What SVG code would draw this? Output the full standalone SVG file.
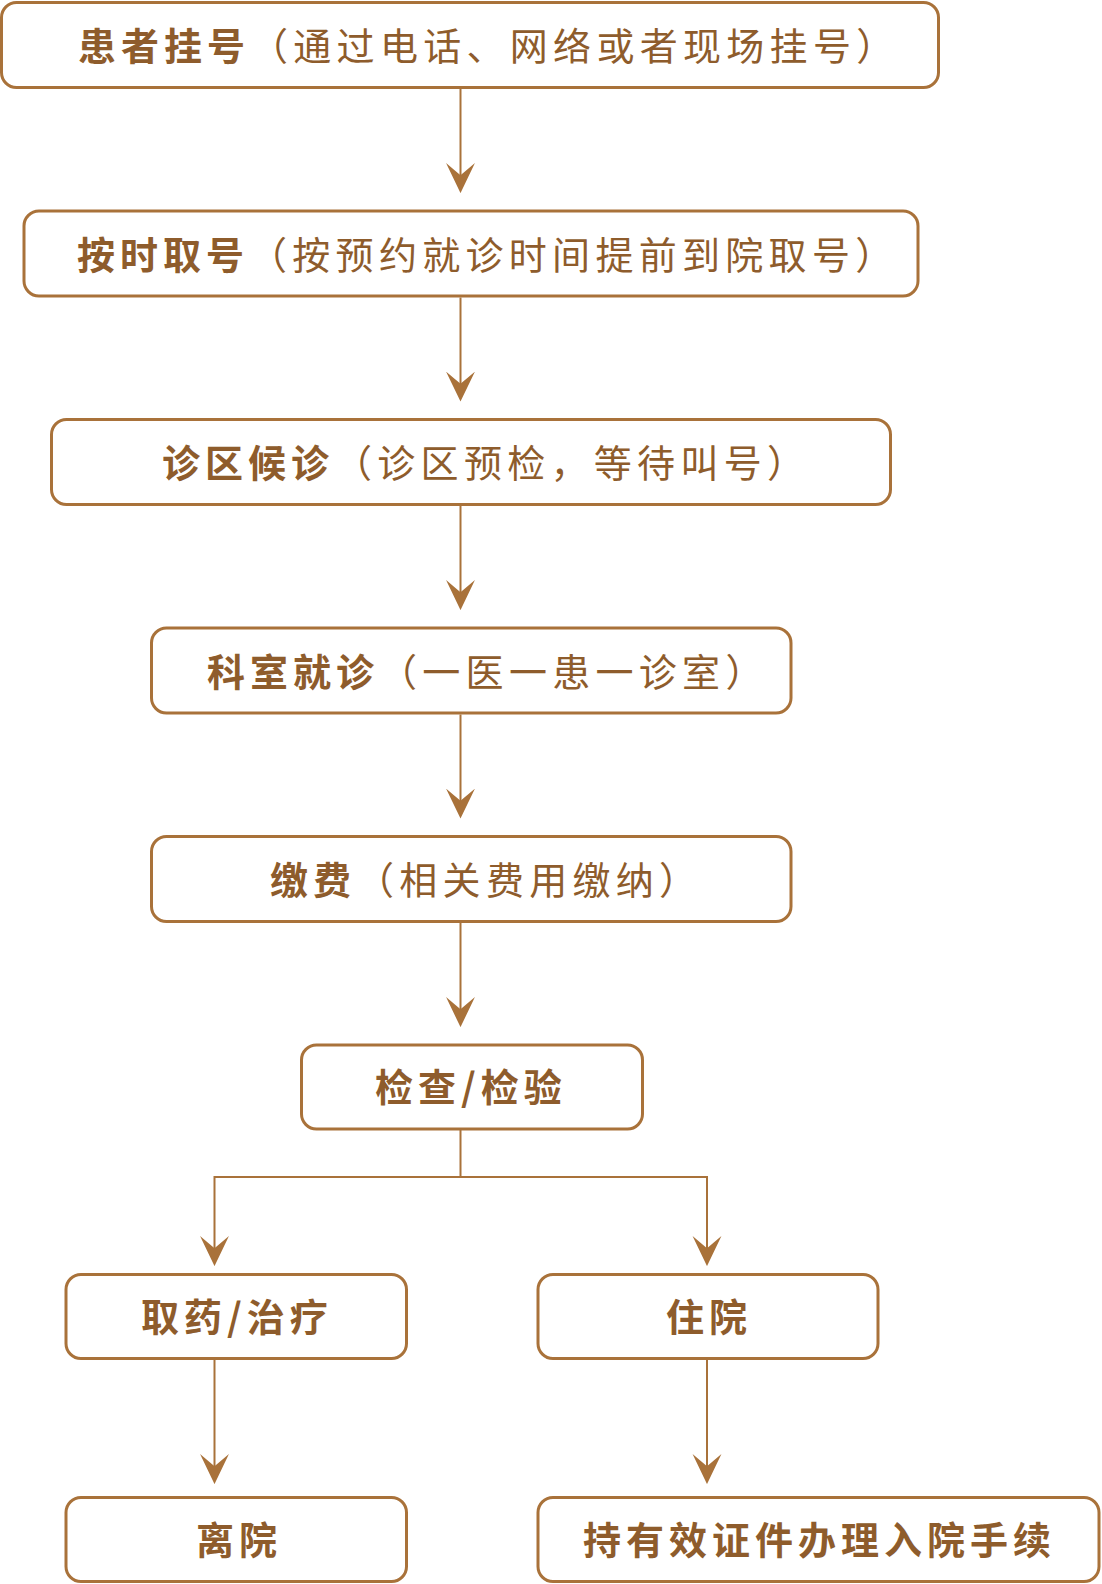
<svg xmlns="http://www.w3.org/2000/svg" width="1102" height="1584" viewBox="0 0 1102 1584">
  <defs>
    <style>
      .box { fill: #ffffff; stroke: #A9723A; stroke-width: 3; }
      .conn { fill: none; stroke: #A9723A; stroke-width: 2; }
      .t { font-family: "Noto Sans CJK SC", "Noto Sans", sans-serif; font-size: 38px; fill: #8E5C2C; }
      .b { font-weight: 700; letter-spacing: 5px; }
      .r { font-weight: 400; letter-spacing: 5.3px; }
    </style>
    <marker id="arrow" markerUnits="userSpaceOnUse" markerWidth="30" markerHeight="30" viewBox="0 0 27 26" refX="17" refY="13" orient="auto">
      <path d="M0,0 L27,13 L0,26 L11,13 Z" fill="#A9723A"/>
    </marker>
  </defs>
  <rect width="1102" height="1584" fill="#ffffff"/>

  <g id="connectors">
    <line class="conn" x1="460.5" y1="89" x2="460.5" y2="182" marker-end="url(#arrow)"/>
    <line class="conn" x1="460.5" y1="297.5" x2="460.5" y2="390.5" marker-end="url(#arrow)"/>
    <line class="conn" x1="460.5" y1="506" x2="460.5" y2="599" marker-end="url(#arrow)"/>
    <line class="conn" x1="460.5" y1="714.5" x2="460.5" y2="807.5" marker-end="url(#arrow)"/>
    <line class="conn" x1="460.5" y1="923" x2="460.5" y2="1016" marker-end="url(#arrow)"/>
    <polyline class="conn" points="460.5,1130 460.5,1177 214.5,1177 214.5,1255" marker-end="url(#arrow)"/>
    <polyline class="conn" points="460.5,1177 707,1177 707,1255" marker-end="url(#arrow)"/>
    <line class="conn" x1="214.5" y1="1359" x2="214.5" y2="1473" marker-end="url(#arrow)"/>
    <line class="conn" x1="707" y1="1359" x2="707" y2="1473" marker-end="url(#arrow)"/>
  </g>

  <g id="n1">
    <rect class="box" x="1.5" y="2.5" width="937" height="85" rx="15"/>
    <text class="t" x="78" y="60"><tspan class="b">患者挂号</tspan><tspan class="r">（通过电话、网络或者现场挂号）</tspan></text>
  </g>
  <g id="n2">
    <rect class="box" x="24" y="211" width="894" height="85" rx="15"/>
    <text class="t" x="77" y="268.5"><tspan class="b">按时取号</tspan><tspan class="r">（按预约就诊时间提前到院取号）</tspan></text>
  </g>
  <g id="n3">
    <rect class="box" x="51.5" y="419.5" width="839" height="85" rx="15"/>
    <text class="t" x="162" y="477"><tspan class="b">诊区候诊</tspan><tspan class="r">（诊区预检，等待叫号）</tspan></text>
  </g>
  <g id="n4">
    <rect class="box" x="151.5" y="628" width="639.5" height="85" rx="15"/>
    <text class="t" x="207" y="685.5"><tspan class="b">科室就诊</tspan><tspan class="r">（一医一患一诊室）</tspan></text>
  </g>
  <g id="n5">
    <rect class="box" x="151.5" y="836.5" width="639.5" height="85" rx="15"/>
    <text class="t" x="270" y="894"><tspan class="b">缴费</tspan><tspan class="r">（相关费用缴纳）</tspan></text>
  </g>
  <g id="n6">
    <rect class="box" x="301.5" y="1045" width="341" height="84" rx="15"/>
    <text class="t b" x="375" y="1100.5">检查/检验</text>
  </g>
  <g id="n7">
    <rect class="box" x="66" y="1274.5" width="340.5" height="84" rx="15"/>
    <text class="t b" x="141" y="1330.5">取药/治疗</text>
  </g>
  <g id="n8">
    <rect class="box" x="538" y="1274.5" width="340" height="84" rx="15"/>
    <text class="t b" x="666" y="1330.5">住院</text>
  </g>
  <g id="n9">
    <rect class="box" x="66" y="1497.5" width="340.5" height="84" rx="15"/>
    <text class="t b" x="196" y="1553.5">离院</text>
  </g>
  <g id="n10">
    <rect class="box" x="538" y="1497.5" width="561" height="84" rx="15"/>
    <text class="t b" x="583" y="1553.5">持有效证件办理入院手续</text>
  </g>
</svg>
